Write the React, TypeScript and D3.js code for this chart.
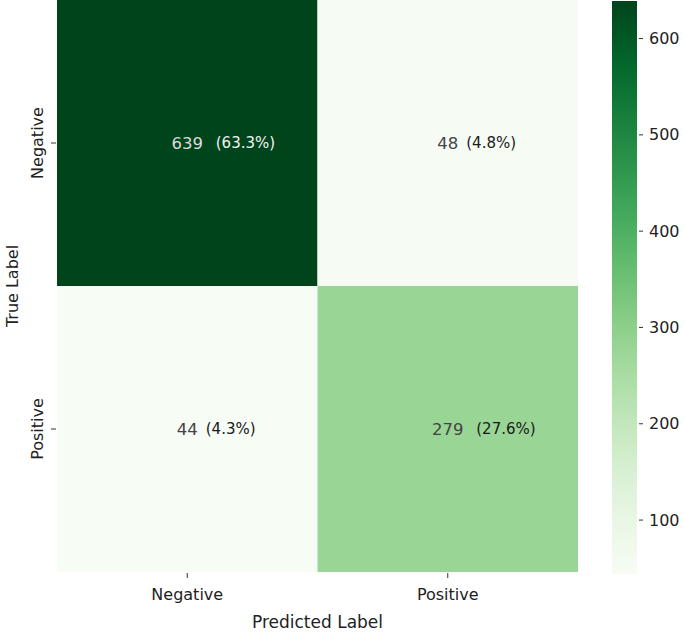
import React from "react";
import * as d3 from "d3";

// confusion matrix values
const trueLabels = ["Negative", "Positive"];
const predLabels = ["Negative", "Positive"];
const counts = [
  [639, 48],
  [44, 279],
];
const percents = [
  ["63.3%", "4.8%"],
  ["4.3%", "27.6%"],
];
const colorbarTicks = [100, 200, 300, 400, 500, 600];

const W = 684;
const H = 633;
const margin = { top: 0, left: 57, right: 106, bottom: 61 };

const App = () => {
  const plotW = W - margin.left - margin.right;
  const plotH = H - margin.top - margin.bottom;

  const x = d3.scaleBand().domain(predLabels).range([margin.left, margin.left + plotW]);
  const y = d3.scaleBand().domain(trueLabels).range([margin.top, margin.top + plotH]);

  const flat = counts.flat();
  const vmin = d3.min(flat) as number;
  const vmax = d3.max(flat) as number;
  const color = d3.scaleSequential(d3.interpolateGreens).domain([vmin, vmax]);

  // colorbar
  const cbX = 612;
  const cbW = 25;
  const cbTop = 1;
  const cbBottom = 574;
  const cbScale = d3.scaleLinear().domain([vmin, vmax]).range([cbBottom, cbTop]);
  const stops = d3.range(0, 1.0001, 0.05);

  const cells = [];
  trueLabels.forEach((t, i) => {
    predLabels.forEach((p, j) => {
      const v = counts[i][j];
      const cx = (x(p) as number) + x.bandwidth() / 2;
      const cy = (y(t) as number) + y.bandwidth() / 2;
      const dark = (v - vmin) / (vmax - vmin) > 0.6;
      const digits = String(v).length;
      cells.push(
        <g key={`${i}-${j}`}>
          <rect
            x={x(p)}
            y={y(t)}
            width={x.bandwidth()}
            height={y.bandwidth()}
            fill={color(v)}
          />
          <text
            x={cx}
            y={cy}
            dy="0.35em"
            textAnchor="middle"
            fontFamily="DejaVu Sans"
            fontSize={16.5}
            fill={dark ? "#dcdcdc" : "#444"}
          >
            {v}
          </text>
          <text
            x={cx + digits * 10 - 1.5}
            y={cy}
            dy="0.35em"
            textAnchor="start"
            fontFamily="DejaVu Sans"
            fontSize={15}
            fill={dark ? "#f2f2f2" : "#1a1a1a"}
          >
            ({percents[i][j]})
          </text>
        </g>
      );
    });
  });

  return (
    <svg
      width={W}
      height={H}
      style={{ position: "absolute", left: 0, top: 0, background: "#fff" }}
    >
      <defs>
        <linearGradient id="cb" x1="0" y1="1" x2="0" y2="0">
          {stops.map((s) => (
            <stop key={s} offset={s} stopColor={d3.interpolateGreens(s)} />
          ))}
        </linearGradient>
      </defs>

      {cells}

      {/* x axis */}
      {predLabels.map((p) => {
        const cx = (x(p) as number) + x.bandwidth() / 2;
        return (
          <g key={p}>
            <line x1={cx} x2={cx} y1={plotH + 1} y2={plotH + 6} stroke="#333" />
            <text
              x={cx}
              y={plotH + 28}
              textAnchor="middle"
              fontFamily="DejaVu Sans"
              fontSize={16}
              fill="#222"
            >
              {p}
            </text>
          </g>
        );
      })}
      <text
        x={margin.left + plotW / 2}
        y={H - 5}
        textAnchor="middle"
        fontFamily="DejaVu Sans"
        fontSize={17}
        fill="#222"
      >
        Predicted Label
      </text>

      {/* y axis */}
      {trueLabels.map((t) => {
        const cy = (y(t) as number) + y.bandwidth() / 2;
        return (
          <g key={t}>
            <line x1={margin.left - 6} x2={margin.left - 1} y1={cy} y2={cy} stroke="#333" />
            <text
              transform={`translate(${margin.left - 14},${cy}) rotate(-90)`}
              textAnchor="middle"
              fontFamily="DejaVu Sans"
              fontSize={16}
              fill="#222"
            >
              {t}
            </text>
          </g>
        );
      })}
      <text
        transform={`translate(18,${margin.top + plotH / 2}) rotate(-90)`}
        textAnchor="middle"
        fontFamily="DejaVu Sans"
        fontSize={16}
        fill="#222"
      >
        True Label
      </text>

      {/* colorbar */}
      <rect x={cbX} y={cbTop} width={cbW} height={cbBottom - cbTop} fill="url(#cb)" />
      {colorbarTicks.map((t) => (
        <g key={t}>
          <line
            x1={cbX + cbW + 2}
            x2={cbX + cbW + 6}
            y1={cbScale(t)}
            y2={cbScale(t)}
            stroke="#333"
          />
          <text
            x={cbX + cbW + 12}
            y={cbScale(t)}
            dy="0.35em"
            fontFamily="DejaVu Sans"
            fontSize={16}
            fill="#222"
          >
            {t}
          </text>
        </g>
      ))}
    </svg>
  );
};

export default App;
